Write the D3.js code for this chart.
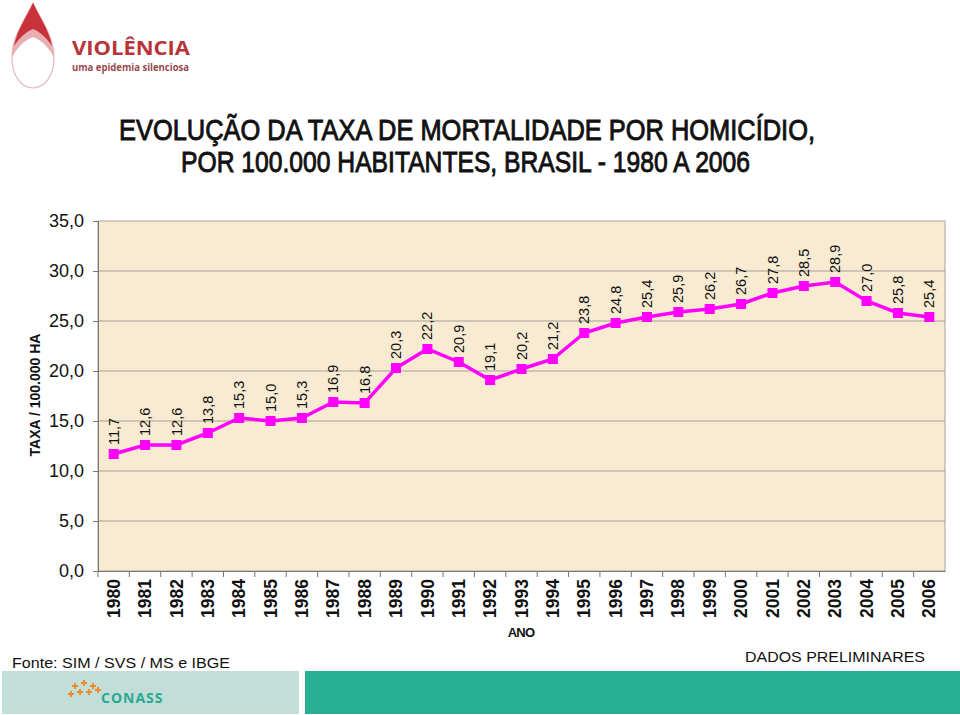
<!DOCTYPE html>
<html><head><meta charset="utf-8">
<script src="https://cdn.jsdelivr.net/npm/d3@7"></script>
<style>body{margin:0;background:#fff}svg{display:block;font-family:"Liberation Sans",Arial,sans-serif}</style>
</head><body>
<svg id="c" width="960" height="715"></svg>
<script>
const years = ["1980","1981","1982","1983","1984","1985","1986","1987","1988","1989","1990","1991","1992","1993","1994","1995","1996","1997","1998","1999","2000","2001","2002","2003","2004","2005","2006"];
const rates = [11.7,12.6,12.6,13.8,15.3,15.0,15.3,16.9,16.8,20.3,22.2,20.9,19.1,20.2,21.2,23.8,24.8,25.4,25.9,26.2,26.7,27.8,28.5,28.9,27.0,25.8,25.4];
const yTicks = [0,5,10,15,20,25,30,35];
const titleLines = ["EVOLUÇÃO DA TAXA DE MORTALIDADE POR HOMICÍDIO,","POR 100.000 HABITANTES, BRASIL - 1980 A 2006"];

const svg = d3.select("#c");
const fmt = v => d3.format(".1f")(v).replace(".", ",");
const L = 98, R = 945, T = 221, B = 571;
const x = d3.scaleBand().domain(years).range([L, R]);
const y = d3.scaleLinear().domain([0, 35]).range([B, T]);

// Logo
const lg = svg.append("g");
lg.append("path").attr("d","M33,3 C24,22 12,36 12,58 C12,75 21,88 33,88 C45,88 54,75 54,58 C54,36 42,22 33,3 Z").attr("fill","#fff").attr("stroke","#e3b9bd").attr("stroke-width",1.2);
lg.append("path").attr("d","M33,3 C24,22 12,36 12,58 C15,50 24,40 33,37 C42,40 51,50 54,58 C54,36 42,22 33,3 Z").attr("fill","#e8aeb2");
lg.append("path").attr("d","M33,3 C26,18 17,30 14,46 C20,37 27,31 33,29 C39,31 46,37 52,46 C49,30 40,18 33,3 Z").attr("fill","#c9323a");
lg.append("text").attr("x",72).attr("y",55).attr("font-size",20).attr("font-weight","bold").attr("fill","#b7343b").attr("font-family","'Open Sans',sans-serif").attr("textLength",118).attr("lengthAdjust","spacingAndGlyphs").text("VIOLÊNCIA");
lg.append("text").attr("x",72).attr("y",71).attr("font-size",10).attr("font-weight","bold").attr("fill","#9a4b50").attr("font-family","'Open Sans',sans-serif").attr("textLength",117).attr("lengthAdjust","spacingAndGlyphs").text("uma epidemia silenciosa");

// Title
svg.append("text").attr("x",119).attr("y",140).attr("font-size",29).attr("font-family","'Liberation Sans Narrow',Arial").attr("fill","#111").attr("stroke","#111").attr("stroke-width",0.9).attr("textLength",696).attr("lengthAdjust","spacingAndGlyphs").text(titleLines[0]);
svg.append("text").attr("x",181).attr("y",172).attr("font-size",29).attr("font-family","'Liberation Sans Narrow',Arial").attr("fill","#111").attr("stroke","#111").attr("stroke-width",0.9).attr("textLength",569).attr("lengthAdjust","spacingAndGlyphs").text(titleLines[1]);

// Plot background
svg.append("rect").attr("x",L).attr("y",T).attr("width",R-L).attr("height",B-T).attr("fill","#f8ebd2").attr("stroke","#a9a39a").attr("stroke-width",1);

// Gridlines
svg.append("g").selectAll("line").data(yTicks.filter(d=>d>0&&d<35)).join("line")
  .attr("x1",L).attr("x2",R).attr("y1",d=>y(d)).attr("y2",d=>y(d)).attr("stroke","#a59f95").attr("stroke-width",1);

// Y axis
const ya = svg.append("g").attr("transform",`translate(${L},0)`).call(d3.axisLeft(y).tickValues(yTicks).tickFormat(fmt).tickSize(5).tickPadding(9));
ya.selectAll("text").attr("font-size",18).attr("fill","#111").attr("font-family","Arial,'Liberation Sans'");
ya.selectAll("line").attr("stroke","#777");
ya.select(".domain").attr("stroke","#777");

// X axis
const xa = svg.append("g").attr("transform",`translate(0,${B})`).call(d3.axisBottom(x).tickSize(0).tickSizeOuter(0));
xa.select(".domain").attr("stroke","#777");
xa.selectAll("text").attr("transform",function(d){return `translate(${x(d)+x.bandwidth()/2},8) rotate(-90)`;}).attr("x",0).attr("y",0).attr("dy","0.35em").attr("text-anchor","end").attr("font-size",17.5).attr("font-weight","bold").attr("fill","#111");
xa.selectAll(".tick").attr("transform",null);
svg.append("g").selectAll("line").data(years).join("line")
  .attr("x1",d=>x(d)).attr("x2",d=>x(d)).attr("y1",B).attr("y2",B+6).attr("stroke","#777");

// Axis titles
svg.append("text").attr("transform","translate(40,395) rotate(-90)").attr("text-anchor","middle").attr("font-size",14).attr("font-weight","bold").attr("fill","#111").text("TAXA / 100.000 HA");
svg.append("text").attr("x",521).attr("y",637).attr("text-anchor","middle").attr("font-size",13).attr("font-weight","bold").attr("fill","#111").attr("letter-spacing",-0.8).text("ANO");

// Line + markers
const cx = d => x(d)+x.bandwidth()/2;
svg.append("path").datum(rates).attr("fill","none").attr("stroke","#ff00ff").attr("stroke-width",3.5)
  .attr("d",d3.line().x((d,i)=>cx(years[i])).y(d=>y(d)));
svg.append("g").selectAll("rect").data(rates).join("rect")
  .attr("x",(d,i)=>cx(years[i])-5).attr("y",d=>y(d)-5).attr("width",10).attr("height",10).attr("fill","#ff00ff");

// Data labels
svg.append("g").selectAll("text").data(rates).join("text")
  .attr("transform",(d,i)=>`translate(${cx(years[i])},${y(d)-9}) rotate(-90)`)
  .attr("dy","0.35em").attr("font-size",14.5).attr("fill","#111").text(d=>fmt(d));

// Footer
svg.append("text").attr("x",12).attr("y",668).attr("font-size",15.5).attr("fill","#111").attr("font-family","'Liberation Sans Narrow',Arial").attr("textLength",218).attr("lengthAdjust","spacingAndGlyphs").text("Fonte: SIM / SVS / MS e IBGE");
svg.append("text").attr("x",745).attr("y",662).attr("font-size",15.5).attr("fill","#111").attr("font-family","'Liberation Sans Narrow',Arial").attr("textLength",180).attr("lengthAdjust","spacingAndGlyphs").text("DADOS PRELIMINARES");
svg.append("rect").attr("x",2).attr("y",671).attr("width",297).attr("height",43).attr("fill","#c1ded8");
svg.append("rect").attr("x",305).attr("y",671).attr("width",655).attr("height",43).attr("fill","#27ae93");
// CONASS logo
const cl = svg.append("g");
[[75,686],[84,683],[93,686],[80,692],[89,692],[98,690],[71,694]].forEach(p=>{
  cl.append("path").attr("d",`M${p[0]-3},${p[1]-1} h2 v-2 h2 v2 h2 v2 h-2 v2 h-2 v-2 h-2 Z`).attr("fill","#f08a2c");
});
cl.append("text").attr("x",101).attr("y",703).attr("font-size",14).attr("font-weight","bold").attr("fill","#2aa98f").attr("font-family","'Open Sans',sans-serif").attr("letter-spacing",1).text("CONASS");
</script>
</body></html>
